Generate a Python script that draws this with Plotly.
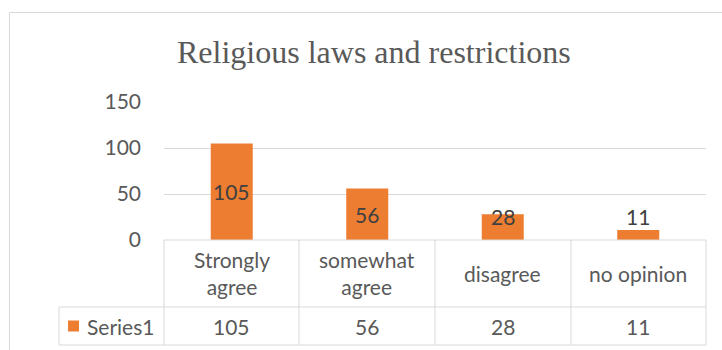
import plotly.graph_objects as go

categories = ["Strongly agree", "somewhat agree", "disagree", "no opinion"]
category_labels = ["Strongly<br>agree", "somewhat<br>agree", "disagree", "no opinion"]
values = [105, 56, 28, 11]
series_name = "Series1"
y_ticks = [0, 50, 100, 150]

W, H = 722, 350
L, R, T, B = 164, 706, 102, 240

def px(x):
    return (x - L) / (R - L)

def py(y):
    return (B - y) / (B - T)

ORANGE = "#ED7D31"
GRID = "#d9d9d9"
TXT = "#595959"
FONT = "Lato"
FS = 21

fig = go.Figure()
fig.add_trace(go.Bar(x=categories, y=values, marker=dict(color=ORANGE, line=dict(width=0)),
                     name=series_name, showlegend=False))

ann = []
# title
ann.append(dict(text="Religious laws and restrictions", xref="paper", yref="paper",
                x=px(374), y=py(52), xanchor="center", yanchor="middle", showarrow=False,
                font=dict(family="Liberation Serif", size=32, color=TXT)))
# data labels
for c, v in zip(categories, values):
    ann.append(dict(text=str(v), x=c, y=max(v / 2, 26), xref="x", yref="y",
                    showarrow=False, xanchor="center", yanchor="middle",
                    font=dict(family=FONT, size=FS, color="#404040")))
# table category labels and values
for c, lab, v in zip(categories, category_labels, values):
    ann.append(dict(text=lab, x=c, y=py(273), xref="x", yref="paper", showarrow=False,
                    xanchor="center", yanchor="middle",
                    font=dict(family=FONT, size=FS, color=TXT)))
    ann.append(dict(text=str(v), x=c, y=py(326), xref="x", yref="paper", showarrow=False,
                    xanchor="center", yanchor="middle",
                    font=dict(family=FONT, size=FS, color=TXT)))
ann.append(dict(text=series_name, x=px(85), y=py(326), xref="paper", yref="paper",
                showarrow=False, xanchor="left", yanchor="middle",
                font=dict(family=FONT, size=FS, color=TXT)))

shapes = []
def line(x0, y0, x1, y1, color=GRID):
    shapes.append(dict(type="line", xref="paper", yref="paper",
                       x0=px(x0), y0=py(y0), x1=px(x1), y1=py(y1),
                       line=dict(color=color, width=1)))

# outer chart frame
line(9.5, 12.5, 730, 12.5)
line(9.5, 12.5, 9.5, 360)
# table
col_x = [164, 299, 435, 571, 706]
line(164, 240, 706, 240)
line(59, 307, 706, 307)
line(59, 345, 706, 345)
line(59, 307, 59, 345)
for cx in col_x:
    line(cx, 240, cx, 345)
# legend key
shapes.append(dict(type="rect", xref="paper", yref="paper",
                   x0=px(68), x1=px(79), y0=py(320.5), y1=py(331.5),
                   fillcolor=ORANGE, line=dict(width=0)))

fig.update_layout(
    width=W, height=H,
    margin=dict(l=L, r=W - R, t=T, b=H - B, pad=0),
    paper_bgcolor="white", plot_bgcolor="white",
    bargap=0.69,
    annotations=ann, shapes=shapes,
    xaxis=dict(showticklabels=False, showline=False, showgrid=False, zeroline=False, ticks=""),
    yaxis=dict(range=[0, 150], tickvals=y_ticks, showgrid=True, gridcolor=GRID, gridwidth=1,
               zeroline=False, showline=False, ticks="", ticklabelstandoff=22,
               tickfont=dict(family=FONT, size=FS, color=TXT)),
)

fig.write_html("out.html")
